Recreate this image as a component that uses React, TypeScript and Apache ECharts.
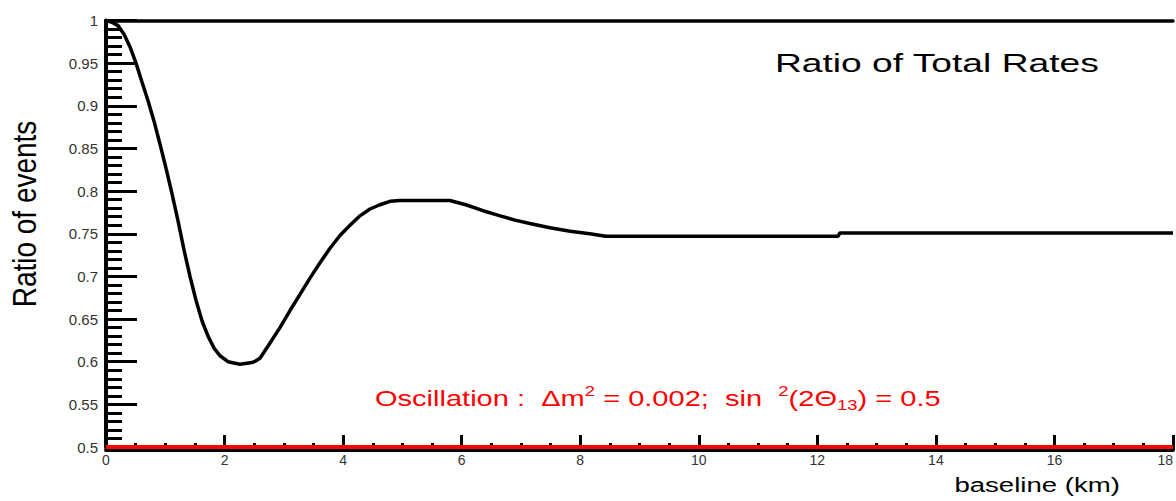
import React, { useEffect, useRef } from "react";
import * as echarts from "echarts";

// Curve: baseline (km) and ratio of events
const baselineKm = [
  0, 0.101, 0.202, 0.304, 0.405, 0.506, 0.607, 0.709, 0.81, 0.911, 1.012,
  1.113, 1.215, 1.316, 1.417, 1.518, 1.619, 1.721, 1.822, 1.923, 2.058, 2.26,
  2.463, 2.53, 2.598, 2.767, 2.935, 3.104, 3.273, 3.441, 3.61, 3.779, 3.947,
  4.116, 4.285, 4.453, 4.622, 4.791, 4.96, 5.8, 6.07, 6.36, 6.65, 6.9, 7.15,
  7.49, 7.83, 8.16, 8.43, 12.35, 12.38, 18,
];
const ratioOfEvents = [
  1.0, 0.998, 0.994, 0.984, 0.969, 0.95, 0.928, 0.906, 0.882, 0.855, 0.827,
  0.797, 0.765, 0.731, 0.7, 0.672, 0.648, 0.63, 0.616, 0.607, 0.6, 0.597,
  0.599, 0.601, 0.604, 0.622, 0.64, 0.66, 0.679, 0.698, 0.716, 0.733, 0.748,
  0.76, 0.771, 0.779, 0.784, 0.788, 0.789, 0.789, 0.784, 0.777, 0.771, 0.766,
  0.762, 0.757, 0.753, 0.75, 0.747, 0.747, 0.751, 0.751,
];

// Red reference line
const referenceKm = [0, 18];
const referenceLevel = [0.5, 0.5];

const chartTitle = "Ratio of Total Rates";
const xAxisTitle = "baseline (km)";
const yAxisTitle = "Ratio of events";
const oscillationText =
  "Oscillation :  Δm{sup|2} = 0.002;  sin  {sup|2}(2Θ{sub|13}) = 0.5";

const FONT = '"Liberation Sans", Arial, Helvetica, sans-serif';

export default function App() {
  const ref = useRef<HTMLDivElement>(null);

  useEffect(() => {
    if (!ref.current) return;
    const chart = echarts.init(ref.current, null, { renderer: "svg" });

    const curve = baselineKm.map((x, i) => [x, ratioOfEvents[i]]);
    const refLine = referenceKm.map((x, i) => [x, referenceLevel[i]]);

    chart.setOption({
      animation: false,
      backgroundColor: "#ffffff",
      grid: {
        left: 106,
        right: 3,
        top: 20.5,
        bottom: 54,
        containLabel: false,
        outerBoundsMode: "none",
      },
      xAxis: [
        {
          type: "value",
          min: 0,
          max: 18,
          interval: 2,
          position: "bottom",
          offset: 3,
          axisLine: { show: true, lineStyle: { color: "#000", width: 4 } },
          axisTick: {
            show: true,
            inside: true,
            length: 15,
            lineStyle: { color: "#000", width: 3 },
          },
          minorTick: {
            show: true,
            splitNumber: 4,
            length: 7,
            lineStyle: { color: "#000", width: 3 },
          },
          splitLine: { show: false },
          minorSplitLine: { show: false },
          axisLabel: {
            show: true,
            margin: 3,
            color: "#333",
            fontSize: 14,
            fontFamily: FONT,
            showMinLabel: true,
            showMaxLabel: true,
            alignMaxLabel: "right",
          },
        },
        {
          type: "value",
          min: 0,
          max: 18,
          position: "top",
          axisLine: { show: true, lineStyle: { color: "#000", width: 3.5 } },
          axisTick: { show: false },
          axisLabel: { show: false },
          splitLine: { show: false },
        },
      ],
      yAxis: [
        {
          type: "value",
          min: 0.5,
          max: 1,
          interval: 0.05,
          position: "left",
          axisLine: { show: true, lineStyle: { color: "#000", width: 4 } },
          axisTick: {
            show: true,
            inside: true,
            length: 31,
            lineStyle: { color: "#000", width: 3 },
          },
          minorTick: {
            show: true,
            splitNumber: 5,
            length: 16,
            lineStyle: { color: "#000", width: 3 },
          },
          splitLine: { show: false },
          minorSplitLine: { show: false },
          axisLabel: {
            show: true,
            margin: 8,
            color: "#333",
            fontSize: 15,
            fontFamily: FONT,
            padding: [0, 0, 9, 0],
            formatter: (v: number) => String(parseFloat(v.toFixed(2))),
          },
        },
        {
          type: "value",
          min: 0.5,
          max: 1,
          position: "right",
          axisLine: { show: true, lineStyle: { color: "#000", width: 3.5 } },
          axisTick: { show: false },
          axisLabel: { show: false },
          splitLine: { show: false },
        },
      ],
      series: [
        {
          type: "line",
          data: curve,
          xAxisIndex: 0,
          yAxisIndex: 0,
          symbol: "none",
          silent: true,
          z: 3,
          lineStyle: { color: "#000", width: 3.5 },
        },
        {
          type: "line",
          data: refLine,
          xAxisIndex: 0,
          yAxisIndex: 0,
          symbol: "none",
          silent: true,
          z: 4,
          lineStyle: { color: "#ff0000", width: 4 },
        },
      ],
      graphic: [
        {
          type: "text",
          x: 775,
          y: 63,
          scaleX: 1.43,
          silent: true,
          style: {
            text: chartTitle,
            fontSize: 26,
            fontFamily: FONT,
            fill: "#000",
            align: "left",
            verticalAlign: "middle",
          },
        },
        {
          type: "text",
          x: 25,
          y: 214,
          rotation: Math.PI / 2,
          scaleY: 1.2,
          silent: true,
          style: {
            text: yAxisTitle,
            fontSize: 28,
            fontFamily: FONT,
            fill: "#000",
            align: "center",
            verticalAlign: "middle",
          },
        },
        {
          type: "text",
          x: 1120,
          y: 485,
          scaleX: 1.38,
          silent: true,
          style: {
            text: xAxisTitle,
            fontSize: 20,
            fontFamily: FONT,
            fill: "#000",
            align: "right",
            verticalAlign: "middle",
          },
        },
        {
          type: "text",
          x: 375,
          y: 398,
          scaleX: 1.32,
          silent: true,
          style: {
            text: oscillationText,
            fontSize: 22,
            fontFamily: FONT,
            fill: "#ff0000",
            align: "left",
            verticalAlign: "middle",
            lineHeight: 28,
            rich: {
              sup: {
                fontSize: 14,
                fontFamily: FONT,
                fill: "#ff0000",
                verticalAlign: "top",
                lineHeight: 14,
              },
              sub: {
                fontSize: 14,
                fontFamily: FONT,
                fill: "#ff0000",
                verticalAlign: "bottom",
                lineHeight: 14,
              },
            },
          },
        },
      ],
    });

    return () => chart.dispose();
  }, []);

  return (
    <div
      ref={ref}
      style={{
        position: "absolute",
        left: 0,
        top: 0,
        width: 1176,
        height: 501,
        background: "#fff",
      }}
    />
  );
}
